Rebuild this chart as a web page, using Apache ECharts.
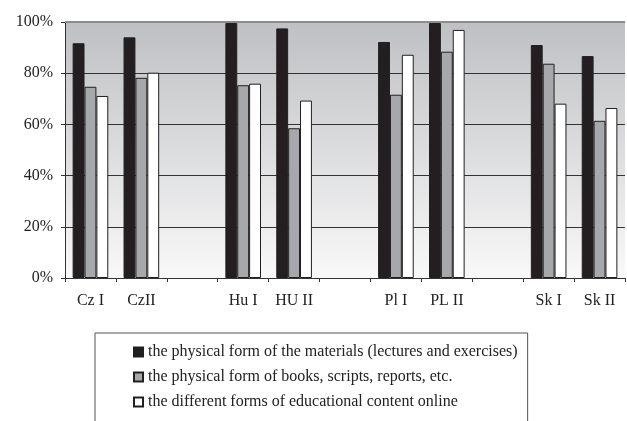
<!DOCTYPE html>
<html><head><meta charset="utf-8">
<script src="https://cdn.jsdelivr.net/npm/echarts@6/dist/echarts.min.js"></script>
<style>html,body{margin:0;padding:0;background:#fff}#c{width:627px;height:421px}</style>
</head><body><div id="c"></div>
<script>
const categories = ['Cz I', 'CzII', '', 'Hu I', 'HU II', '', 'Pl I', 'PL II', '', 'Sk I', 'Sk II'];
const seriesNames = [
  'the physical form of the materials (lectures and exercises)',
  'the physical form of books, scripts, reports, etc.',
  'the different forms of educational content online'
];
const physicalMaterials = [91.7, 94.0, null, 99.6, 97.5, null, 92.2, 99.6, null, 91.0, 86.7];
const physicalBooks     = [74.7, 78.2, null, 75.3, 58.5, null, 71.6, 88.4, null, 83.7, 61.4];
const onlineContent     = [71.1, 80.2, null, 75.9, 69.3, null, 87.2, 96.9, null, 68.1, 66.4];
const yTicks = [0, 20, 40, 60, 80, 100];

const font = 'Liberation Serif';
const chart = echarts.init(document.getElementById('c'));
const colors = ['#231f20', '#a6a8ab', '#ffffff'];
const mk = (i, data) => ({
  name: seriesNames[i], type: 'bar', data: data,
  barGap: '0%', barCategoryGap: '30%',
  itemStyle: { color: colors[i], borderColor: '#231f20', borderWidth: 1 },
  silent: true
});
const s0 = mk(0, physicalMaterials);
s0.markLine = {
  silent: true, symbol: 'none', label: { show: false },
  lineStyle: { color: '#8c8c8c', width: 2, type: 'solid' },
  data: [{ yAxis: yTicks[yTicks.length - 1] }]
};
chart.setOption({
  animation: false,
  textStyle: { fontFamily: font },
  grid: {
    left: 65, right: 2, top: 22, bottom: 143, show: true, borderWidth: 0,
    backgroundColor: new echarts.graphic.LinearGradient(0, 0, 0, 1, [
      { offset: 0, color: '#bfc0c3' }, { offset: 1, color: '#f9f9f9' }
    ])
  },
  legend: {
    orient: 'vertical', left: 95, top: 333, height: 200,
    padding: [11, 10, 40, 38],
    borderColor: '#555', borderWidth: 1,
    itemWidth: 9, itemHeight: 9, itemGap: 9,
    icon: 'rect',
    textStyle: { fontFamily: font, fontSize: 16, color: '#222' },
    data: seriesNames
  },
  xAxis: {
    type: 'category', data: categories,
    axisLine: { lineStyle: { color: '#333', width: 1 } },
    axisTick: { show: true, length: 4, lineStyle: { color: '#333' } },
    axisLabel: { fontFamily: font, fontSize: 16, color: '#222', margin: 15, interval: 0 }
  },
  yAxis: {
    type: 'value', min: 0, max: 100, interval: 20,
    axisLine: { show: true, lineStyle: { color: '#333' } },
    axisTick: { show: true, length: 4, lineStyle: { color: '#333' } },
    axisLabel: { fontFamily: font, fontSize: 16, color: '#222', margin: 12, formatter: v => v + '%' },
    splitLine: { lineStyle: { color: '#333', width: 1 } }
  },
  series: [s0, mk(1, physicalBooks), mk(2, onlineContent)]
});
</script></body></html>
